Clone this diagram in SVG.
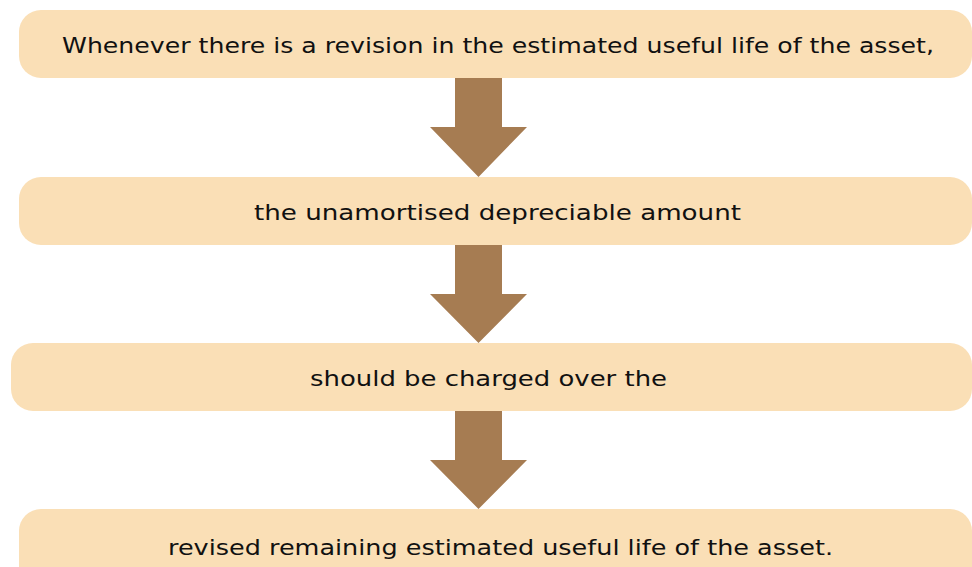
<svg xmlns="http://www.w3.org/2000/svg" width="972" height="567" viewBox="0 0 972 567">
<style>
.box{fill:#FADFB6;}
.lbl{font-family:"DejaVu Sans","Liberation Sans",sans-serif;font-size:22px;fill:#111;text-anchor:middle;}
.arr{fill:#A67C52;}
</style>
<rect width="972" height="567" fill="#ffffff"/>
<g id="node1"><rect class="box" x="19" y="10" width="953" height="68" rx="22"/><text class="lbl" x="498" y="53" textLength="872" lengthAdjust="spacingAndGlyphs">Whenever there is a revision in the estimated useful life of the asset,</text></g>
<g id="node2"><rect class="box" x="19" y="177" width="953" height="68" rx="22"/><text class="lbl" x="497.5" y="220" textLength="487" lengthAdjust="spacingAndGlyphs">the unamortised depreciable amount</text></g>
<g id="node3"><rect class="box" x="11" y="343" width="961" height="68" rx="22"/><text class="lbl" x="488.5" y="386" textLength="357" lengthAdjust="spacingAndGlyphs">should be charged over the</text></g>
<g id="node4"><rect class="box" x="19" y="509" width="953" height="80" rx="22"/><text class="lbl" x="500.5" y="555" textLength="665" lengthAdjust="spacingAndGlyphs">revised remaining estimated useful life of the asset.</text></g>
<g id="connectors">
<polygon class="arr" points="455,78 502,78 502,127 527,127 478.5,177 430,127 455,127"/>
<polygon class="arr" points="455,245 502,245 502,294 527,294 478.5,343 430,294 455,294"/>
<polygon class="arr" points="455,411 502,411 502,460 527,460 478.5,509 430,460 455,460"/>
</g>
</svg>
